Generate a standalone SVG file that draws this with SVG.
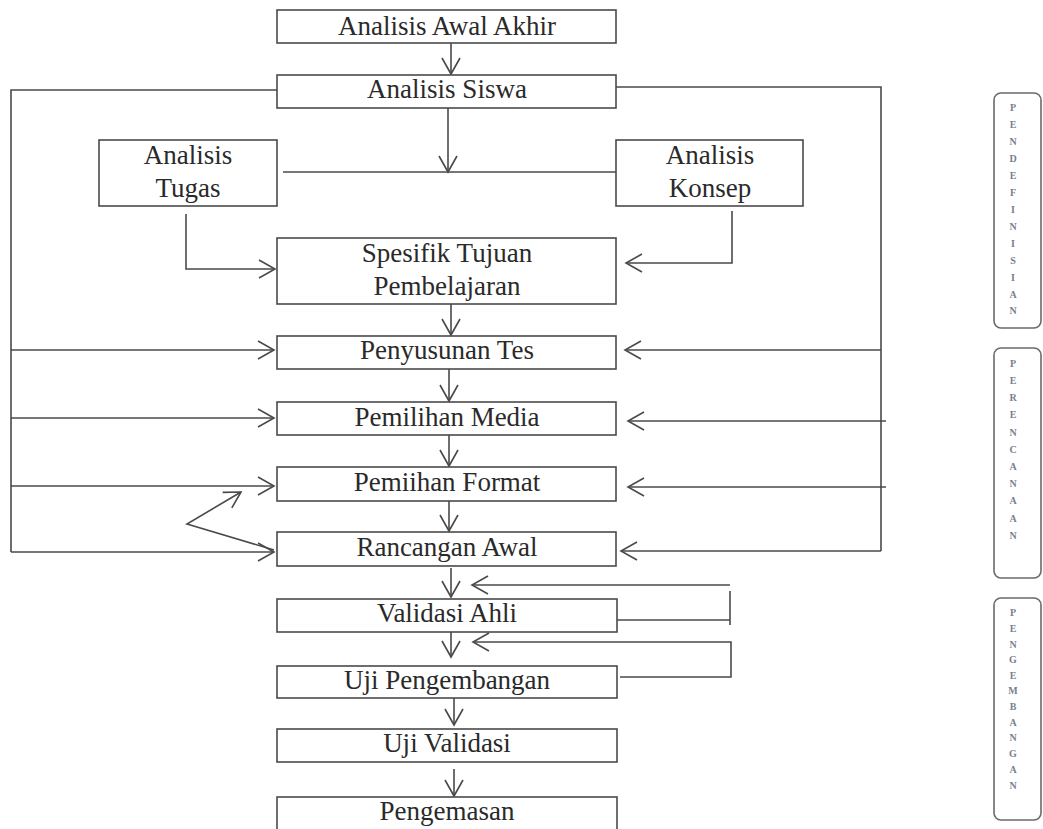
<svg xmlns="http://www.w3.org/2000/svg" width="1043" height="829" viewBox="0 0 1043 829">
<style>
.box{fill:#fff;stroke:#4a4a4a;stroke-width:1.6}
.t{font-family:"Liberation Serif","Times New Roman",serif;font-size:27px;fill:#2a2a2a;text-anchor:middle}
.ln{fill:none;stroke:#4a4a4a;stroke-width:1.6}
.ar{fill:none;stroke:#4a4a4a;stroke-width:1.6;marker-end:url(#ah)}
.side{fill:#fff;stroke:#6a6a6a;stroke-width:1.6}
.s{font-family:"Liberation Serif","Times New Roman",serif;font-size:10px;font-weight:bold;fill:#77808e;text-anchor:middle}
</style>
<defs>
<marker id="ah" markerUnits="userSpaceOnUse" markerWidth="20" markerHeight="22" viewBox="-18 -11 20 22" refX="0" refY="0" orient="auto">
<path d="M-16,-9 L0,0 L-16,9" fill="none" stroke="#4a4a4a" stroke-width="1.6"/>
</marker>
</defs>
<rect width="1043" height="829" fill="#fff"/>

<g id="connectors">
<line class="ar" x1="451" y1="43" x2="451" y2="74"/>
<line class="ar" x1="448" y1="108" x2="448" y2="172"/>
<line class="ln" x1="283" y1="172" x2="624" y2="172"/>
<polyline class="ar" points="186,214 186,269 275,269"/>
<polyline class="ar" points="732,211 732,263 626,263"/>
<line class="ar" x1="451" y1="298" x2="451" y2="335"/>
<line class="ar" x1="449" y1="369" x2="449" y2="401"/>
<line class="ar" x1="449" y1="435" x2="449" y2="466"/>
<line class="ar" x1="449" y1="501" x2="449" y2="531"/>
<line class="ar" x1="451" y1="568" x2="451" y2="597"/>
<line class="ar" x1="451" y1="630" x2="451" y2="657"/>
<line class="ar" x1="454" y1="697" x2="454" y2="725"/>
<line class="ar" x1="454" y1="769" x2="454" y2="796"/>
<polyline class="ln" points="277,90 11,90 11,552"/>
<line class="ar" x1="11" y1="350" x2="274" y2="350"/>
<line class="ar" x1="11" y1="418" x2="274" y2="418"/>
<line class="ar" x1="11" y1="486" x2="274" y2="486"/>
<line class="ar" x1="11" y1="552" x2="274" y2="552"/>
<polyline class="ar" points="274,550 187,524 241,492"/>
<polyline class="ln" points="616,87 881,87 881,551"/>
<line class="ar" x1="881" y1="350" x2="625" y2="350"/>
<line class="ar" x1="886" y1="421" x2="628" y2="421"/>
<line class="ar" x1="886" y1="487" x2="628" y2="487"/>
<line class="ar" x1="881" y1="551" x2="621" y2="551"/>
<polyline class="ln" points="614,620 730,620"/>
<line class="ln" x1="730" y1="591" x2="730" y2="625"/>
<line class="ar" x1="730" y1="585" x2="472" y2="585"/>
<polyline class="ar" points="620,677 731,677 731,642 473,642"/>
</g>

<g id="n-awal"><rect class="box" x="277" y="10" width="339" height="33"/><text class="t" x="447" y="35">Analisis Awal Akhir</text></g>
<g id="n-siswa"><rect class="box" x="277" y="75" width="339" height="33"/><text class="t" x="447" y="98">Analisis Siswa</text></g>
<g id="n-tugas"><rect class="box" x="99" y="140" width="178" height="66"/><text class="t" x="188" y="164">Analisis</text><text class="t" x="188" y="197">Tugas</text></g>
<g id="n-konsep"><rect class="box" x="616" y="140" width="187" height="66"/><text class="t" x="710" y="164">Analisis</text><text class="t" x="710" y="197">Konsep</text></g>
<g id="n-spesifik"><rect class="box" x="277" y="238" width="339" height="66"/><text class="t" x="447" y="262">Spesifik Tujuan</text><text class="t" x="447" y="295">Pembelajaran</text></g>
<g id="n-tes"><rect class="box" x="277" y="336" width="339" height="33"/><text class="t" x="447" y="359">Penyusunan Tes</text></g>
<g id="n-media"><rect class="box" x="277" y="402" width="339" height="33"/><text class="t" x="447" y="426">Pemilihan Media</text></g>
<g id="n-format"><rect class="box" x="277" y="467" width="339" height="34"/><text class="t" x="447" y="491">Pemiihan Format</text></g>
<g id="n-rancangan"><rect class="box" x="277" y="532" width="339" height="34"/><text class="t" x="447" y="556">Rancangan Awal</text></g>
<g id="n-validasi-ahli"><rect class="box" x="277" y="599" width="340" height="33"/><text class="t" x="447" y="622">Validasi Ahli</text></g>
<g id="n-uji-peng"><rect class="box" x="277" y="666" width="340" height="32"/><text class="t" x="447" y="689">Uji Pengembangan</text></g>
<g id="n-uji-val"><rect class="box" x="277" y="729" width="340" height="33"/><text class="t" x="447" y="752">Uji Validasi</text></g>
<g id="n-pengemasan"><rect class="box" x="277" y="797" width="340" height="40"/><text class="t" x="447" y="820">Pengemasan</text></g>

<g id="side-pendefinisian">
<rect class="side" x="994" y="93" width="47" height="235" rx="7"/>
<text class="s" x="1013" y="111">P</text><text class="s" x="1013" y="128">E</text><text class="s" x="1013" y="145">N</text><text class="s" x="1013" y="162">D</text><text class="s" x="1013" y="179">E</text><text class="s" x="1013" y="196">F</text><text class="s" x="1013" y="213">I</text><text class="s" x="1013" y="230">N</text><text class="s" x="1013" y="247">I</text><text class="s" x="1013" y="264">S</text><text class="s" x="1013" y="281">I</text><text class="s" x="1013" y="298">A</text><text class="s" x="1013" y="314">N</text>
</g>
<g id="side-perencanaan">
<rect class="side" x="994" y="348" width="47" height="230" rx="7"/>
<text class="s" x="1013" y="367">P</text><text class="s" x="1013" y="384">E</text><text class="s" x="1013" y="401">R</text><text class="s" x="1013" y="418">E</text><text class="s" x="1013" y="436">N</text><text class="s" x="1013" y="453">C</text><text class="s" x="1013" y="470">A</text><text class="s" x="1013" y="487">N</text><text class="s" x="1013" y="504">A</text><text class="s" x="1013" y="522">A</text><text class="s" x="1013" y="539">N</text>
</g>
<g id="side-pengembangan">
<rect class="side" x="994" y="598" width="47" height="222" rx="7"/>
<text class="s" x="1013" y="616">P</text><text class="s" x="1013" y="632">E</text><text class="s" x="1013" y="648">N</text><text class="s" x="1013" y="663">G</text><text class="s" x="1013" y="679">E</text><text class="s" x="1013" y="694">M</text><text class="s" x="1013" y="710">B</text><text class="s" x="1013" y="726">A</text><text class="s" x="1013" y="741">N</text><text class="s" x="1013" y="757">G</text><text class="s" x="1013" y="773">A</text><text class="s" x="1013" y="789">N</text>
</g>
</svg>
